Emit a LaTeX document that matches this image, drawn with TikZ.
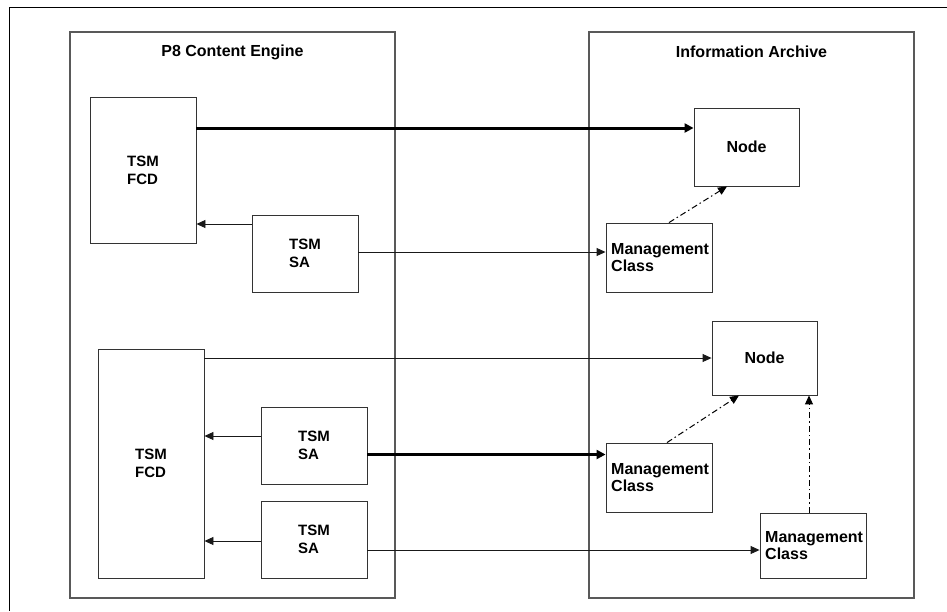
\documentclass[tikz,border=0pt]{standalone}
\usepackage{fontspec}
\setmainfont{Liberation Sans}
\usetikzlibrary{arrows.meta,calc}
\begin{document}
\begin{tikzpicture}[x=1pt,y=-1pt,
  container/.style={draw=black!65,line width=1.3pt,rectangle,inner sep=0pt},
  box/.style={draw=black!80,line width=0.9pt,rectangle,inner sep=0pt,
    font=\fontsize{15}{18}\selectfont\bfseries,align=left},
  lbl/.style={inner sep=0pt,font=\fontsize{16}{17.5}\selectfont\bfseries,align=left},
  ttl/.style={font=\fontsize{16}{18}\selectfont\bfseries,inner sep=0pt},
  conn/.style={draw=black!90,line width=0.9pt,-{Triangle[length=9pt,width=8pt]}},
  thickconn/.style={draw=black,line width=3pt,-{Triangle[length=9pt,width=9pt]}},
  dd/.style={draw=black,line width=1pt,dash pattern=on 6pt off 3pt on 1.5pt off 3pt,
    -{Triangle[length=9pt,width=8pt]}}]
\useasboundingbox (0,0) rectangle (947,611);
\draw[line width=1.2pt] (947,7.3) -- (9.3,7.3) -- (9.3,611);
% containers
\node[container,minimum width=325pt,minimum height=566pt] (ce) at (232.5,315) {};
\node[container,minimum width=325pt,minimum height=566pt] (ia) at (751.5,315) {};
\node[ttl] (cet) at (232.5,52) {P8 Content Engine};
\node[ttl] (iat) at (751.5,52) {Information Archive};
% left boxes
\node[box,minimum width=106pt,minimum height=146pt] (fcd1) at (143,170) {TSM\\FCD};
\node[box,minimum width=106pt,minimum height=77pt] (sa1) at (305,253.5) {TSM\\SA};
\node[box,minimum width=106pt,minimum height=229pt] (fcd2) at (151,463.5) {TSM\\FCD};
\node[box,minimum width=106pt,minimum height=77pt] (sa2) at (314,445.5) {TSM\\SA};
\node[box,minimum width=106pt,minimum height=77pt] (sa3) at (314,539.5) {TSM\\SA};
% right boxes
\node[box,font=\fontsize{16}{18}\selectfont\bfseries,minimum width=105pt,minimum height=78pt] (n1) at (746.5,147) {Node};
\node[box,font=\fontsize{16}{18}\selectfont\bfseries,minimum width=105pt,minimum height=74pt] (n2) at (764.5,358) {Node};
\node[box,minimum width=106pt,minimum height=69pt] (m1) at (659,257.5) {};
\node[lbl,anchor=west] (m1t) at (611,257.5) {Management\\Class};
\node[box,minimum width=106pt,minimum height=69pt] (m2) at (659,477.5) {};
\node[lbl,anchor=west] (m2t) at (611,477.5) {Management\\Class};
\node[box,minimum width=106pt,minimum height=65pt] (m3) at (813,545.5) {};
\node[lbl,anchor=west] (m3t) at (765,545.5) {Management\\Class};
% connectors
\draw[thickconn] (fcd1.east |- 0,128) -- (n1.west |- 0,128);
\draw[conn] (sa1.west |- 0,224) -- (fcd1.east |- 0,224);
\draw[conn] (sa1.east |- 0,252) -- (m1.west |- 0,252);
\draw[dd] ([xshift=10pt]m1.north) -- ([xshift=-19.5pt]n1.south);
\draw[conn] (fcd2.east |- 0,358) -- (n2.west |- 0,358);
\draw[conn] (sa2.west |- 0,436) -- (fcd2.east |- 0,436);
\draw[thickconn] (sa2.east |- 0,454.5) -- (m2.west |- 0,454.5);
\draw[dd] ([xshift=8pt]m2.north) -- ([xshift=-25.5pt]n2.south);
\draw[conn] (sa3.west |- 0,541) -- (fcd2.east |- 0,541);
\draw[conn] (sa3.east |- 0,550) -- (m3.west |- 0,550);
\draw[dd] ([xshift=-4pt]m3.north) -- ([xshift=-4pt]m3.north |- n2.south);
\end{tikzpicture}
\end{document}
